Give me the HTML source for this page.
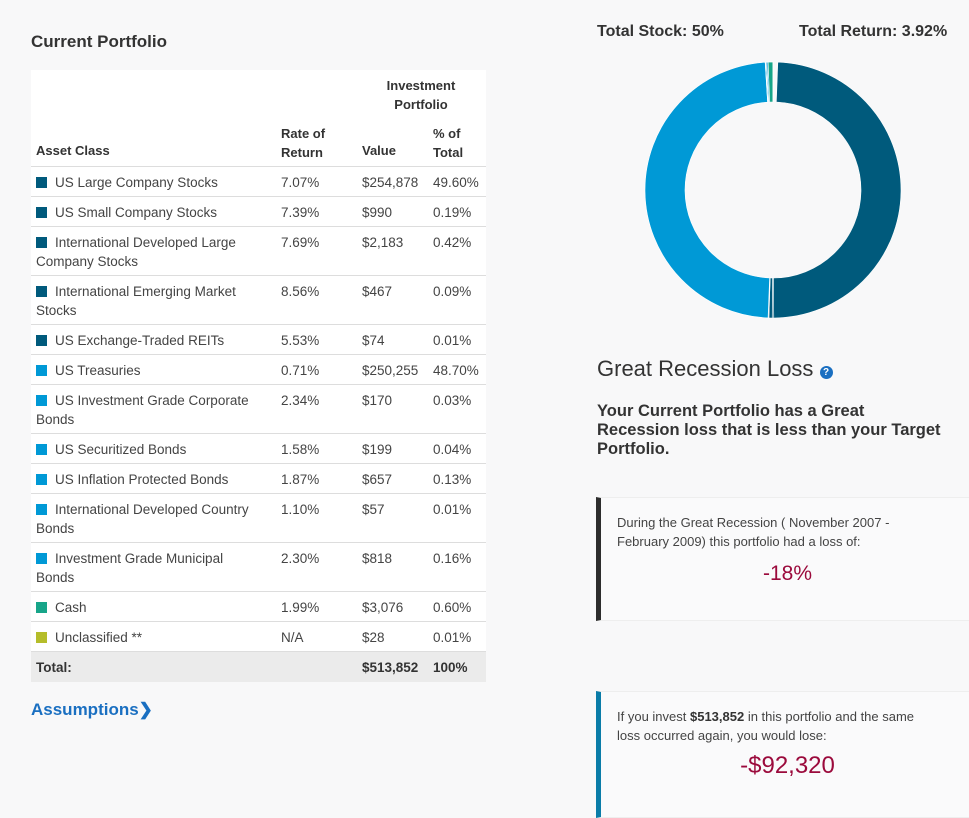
<!DOCTYPE html>
<html><head><meta charset="utf-8"><style>
body{margin:0;width:969px;height:816px;background:#f8f8f9;font-family:"Liberation Sans",sans-serif;color:#333;position:relative;overflow:hidden}
.abs{position:absolute}
.h{font-size:13px;font-weight:bold;color:#333}
.row{position:absolute;left:31px;width:455px;border-top:1px solid #ddd;background:#fff}
.row span{position:absolute;top:6px;font-size:13.5px;color:#444;line-height:19px}
.sq{display:inline-block;width:11px;height:11px;margin-right:8px;vertical-align:-1px}
.box{position:absolute;left:596px;width:373px;background:#fafafb;border-top:1px solid #eee;border-bottom:1px solid #eee}
</style></head><body>
<div class="abs" style="left:31px;top:32px;font-size:17px;font-weight:bold;color:#333">Current Portfolio</div>
<div class="abs" style="left:31px;top:70px;width:455px;height:96px;background:#fff">
<div class="abs h" style="left:354px;top:6px;width:72px;text-align:center;line-height:19px">Investment Portfolio</div>
<div class="abs h" style="left:5px;top:73px">Asset Class</div>
<div class="abs h" style="left:250px;top:54px;line-height:19px">Rate of<br>Return</div>
<div class="abs h" style="left:331px;top:73px">Value</div>
<div class="abs h" style="left:402px;top:54px;line-height:19px">% of<br>Total</div>
</div>
<div id="rows"></div>
<div class="abs" style="left:31px;top:700px;font-size:17px;font-weight:bold;color:#1a6fc1">Assumptions&#10095;</div>
<div class="abs" style="left:597px;top:23px;font-size:16px;font-weight:bold;color:#333">Total Stock: 50%</div>
<div class="abs" style="left:799px;top:23px;font-size:16px;font-weight:bold;color:#333">Total Return: 3.92%</div>
<svg class="abs" style="left:640px;top:57px" width="266" height="266" id="donut"></svg>
<div class="abs" style="left:597px;top:356px;font-size:22px;color:#333">Great Recession Loss <span style="display:inline-block;width:13px;height:13px;border-radius:50%;background:#1a6fc1;color:#fff;font-size:10px;font-weight:bold;text-align:center;line-height:13px;vertical-align:1px">?</span></div>
<div class="abs" style="left:597px;top:402px;width:345px;font-size:16.5px;font-weight:bold;color:#333;line-height:19px">Your Current Portfolio has a Great Recession loss that is less than your Target Portfolio.</div>
<div class="box" style="top:497px;height:122px;border-left:5px solid #2d2d2d">
<div class="abs" style="left:16px;top:15px;width:300px;font-size:13px;line-height:19px;color:#444">During the Great Recession ( November 2007 - February 2009) this portfolio had a loss of:</div>
<div class="abs" style="left:0;width:373px;text-align:center;top:64px;font-size:21px;color:#9b0a3c">-18%</div></div>
<div class="box" style="top:691px;height:125px;border-left:5px solid #0a7ca8">
<div class="abs" style="left:16px;top:15px;width:318px;font-size:13px;line-height:19px;color:#444">If you invest <b style="color:#333">$513,852</b> in this portfolio and the same loss occurred again, you would lose:</div>
<div class="abs" style="left:0;width:373px;text-align:center;top:60px;font-size:24px;color:#9b0a3c">-$92,320</div></div>
<script>
const assets=["US Large Company Stocks","US Small Company Stocks","International Developed Large Company Stocks","International Emerging Market Stocks","US Exchange-Traded REITs","US Treasuries","US Investment Grade Corporate Bonds","US Securitized Bonds","US Inflation Protected Bonds","International Developed Country Bonds","Investment Grade Municipal Bonds","Cash","Unclassified **"];
const returns=["7.07%","7.39%","7.69%","8.56%","5.53%","0.71%","2.34%","1.58%","1.87%","1.10%","2.30%","1.99%","N/A"];
const values=["$254,878","$990","$2,183","$467","$74","$250,255","$170","$199","$657","$57","$818","$3,076","$28"];
const pcts=[49.60,0.19,0.42,0.09,0.01,48.70,0.03,0.04,0.13,0.01,0.16,0.60,0.01];
const colors=["#005a7c","#005a7c","#005a7c","#005a7c","#005a7c","#0099d6","#0099d6","#0099d6","#0099d6","#0099d6","#0099d6","#17a589","#b5bd2a"];
const rowH=[30,30,49,49,30,30,49,30,30,49,49,30,30];
const R=document.getElementById('rows');
let y=166;
assets.forEach((a,i)=>{
 const d=document.createElement('div');d.className='row';
 
 
 d.style.top=y+'px';d.style.height=rowH[i]+'px';
 d.innerHTML=`<span style="left:5px;width:222px"><i class="sq" style="background:${colors[i]}"></i>${a}</span><span style="left:250px">${returns[i]}</span><span style="left:331px">${values[i]}</span><span style="left:402px">${pcts[i].toFixed(2)}%</span>`;
 R.appendChild(d);y+=rowH[i];
});
const tot=document.createElement('div');tot.className='row';


tot.style.top=y+'px';tot.style.height='30px';tot.style.background='#ebebeb';
tot.innerHTML='<span style="left:5px;font-weight:bold;color:#333">Total:</span><span style="left:331px;font-weight:bold;color:#333">$513,852</span><span style="left:402px;font-weight:bold;color:#333">100%</span>';
R.appendChild(tot);
const svg=document.getElementById('donut'),cx=133,cy=133,ro=128,ri=88;
const sum=pcts.reduce((s,v)=>s+v,0);
let a0=0.6/100*2*Math.PI;
function pt(r,a){return [cx+r*Math.sin(a),cy-r*Math.cos(a)];}
pcts.forEach((v,i)=>{
 const a1=a0+v/sum*2*Math.PI*0.994;
 const [x1,y1]=pt(ro,a0),[x2,y2]=pt(ro,a1),[x3,y3]=pt(ri,a1),[x4,y4]=pt(ri,a0);
 const lg=(a1-a0)>Math.PI?1:0;
 const p=document.createElementNS('http://www.w3.org/2000/svg','path');
 p.setAttribute('d',`M${x1},${y1}A${ro},${ro} 0 ${lg} 1 ${x2},${y2}L${x3},${y3}A${ri},${ri} 0 ${lg} 0 ${x4},${y4}Z`);
 p.setAttribute('fill',colors[i]);p.setAttribute('stroke','#fff');p.setAttribute('stroke-width','0.6');
 
 
 svg.appendChild(p);a0=a1;
});
</script>
</body></html>
